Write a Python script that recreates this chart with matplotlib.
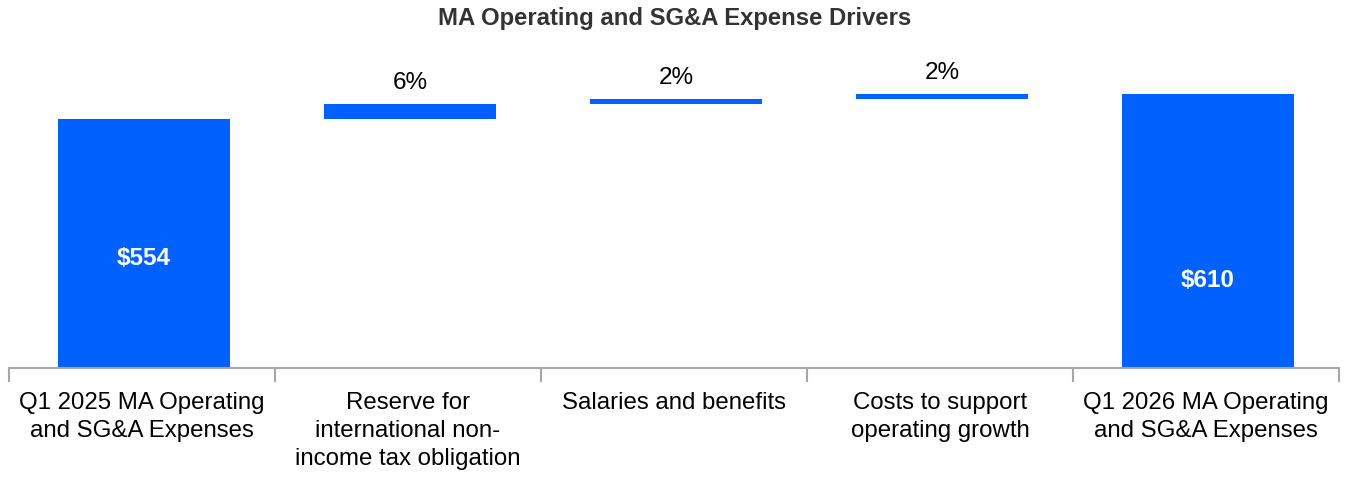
import matplotlib
matplotlib.use("Agg")
import matplotlib.pyplot as plt

plt.rcParams['font.family'] = ['Liberation Sans', 'DejaVu Sans']

categories = ["Q1 2025 MA Operating\nand SG&A Expenses",
              "Reserve for\ninternational non-\nincome tax obligation",
              "Salaries and benefits",
              "Costs to support\noperating growth",
              "Q1 2026 MA Operating\nand SG&A Expenses"]
start_total = 554
end_total = 610
deltas = [33, 11, 12]
delta_labels = ["6%", "2%", "2%"]

blue = "#0061FE"

fig = plt.figure(figsize=(13.5, 4.8), dpi=100)
ax = fig.add_axes([9 / 1350, 112 / 480, 1330 / 1350, 328 / 480])

x = list(range(len(categories)))
bx = [i + 0.0075 for i in x]
w = 0.647

# totals
ax.bar(bx[0], start_total, width=w, color=blue)
ax.bar(bx[-1], end_total, width=w, color=blue)
ax.text(bx[0], start_total * 0.44, f"${start_total}", ha='center', va='center',
        color='white', fontsize=17.5, fontweight='bold')
ax.text(bx[-1], end_total * 0.32, f"${end_total}", ha='center', va='center',
        color='white', fontsize=17.5, fontweight='bold')

# floating steps
level = start_total
for i, (d, lab) in enumerate(zip(deltas, delta_labels)):
    ax.bar(bx[i + 1], d, bottom=level, width=w, color=blue)
    ax.text(bx[i + 1], level + d + 22, lab, ha='center', va='bottom',
            fontsize=17.5, color='black')
    level += d

ax.set_xlim(-0.5, len(categories) - 0.5)
ax.set_ylim(0, 730)

for s in ['top', 'right', 'left']:
    ax.spines[s].set_visible(False)
ax.spines['bottom'].set_color('#A6A6A6')
ax.spines['bottom'].set_linewidth(1.5)
ax.set_yticks([])

# category labels centered, tick marks at the boundaries
ax.set_xticks(x)
ax.set_xticklabels(categories, fontsize=17.3, color='black', va='top',
                   linespacing=1.35)
ax.tick_params(axis='x', which='major', length=0, pad=17)
ax.set_xticks([i - 0.5 for i in range(len(categories) + 1)], minor=True)
ax.tick_params(axis='x', which='minor', length=10, width=1.5,
               color='#A6A6A6', direction='out')

fig.text(0.5, 1 - 19 / 480, "MA Operating and SG&A Expense Drivers",
         ha='center', va='center', fontsize=17.2, fontweight='bold',
         color='#333333')

fig.savefig("out.png", dpi=100)
